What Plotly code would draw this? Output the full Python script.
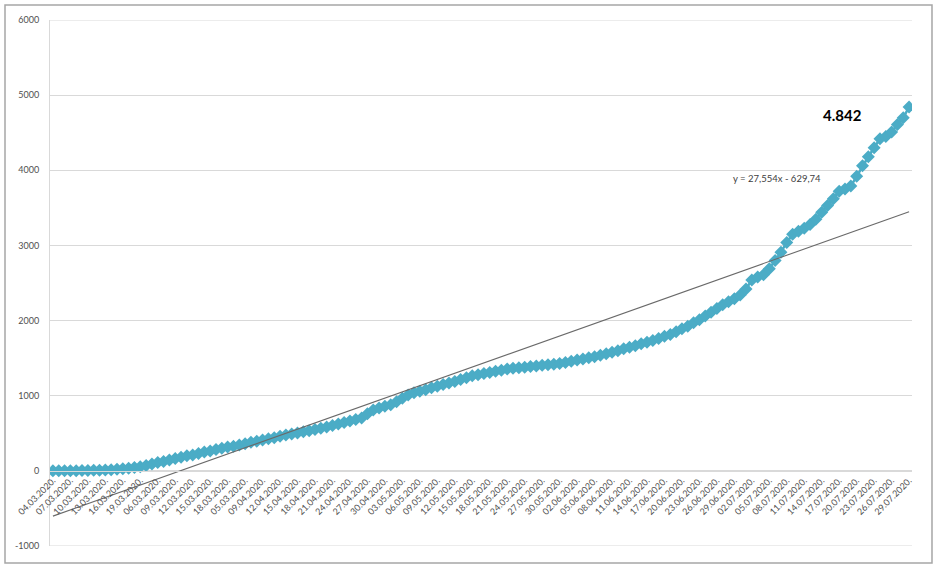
import plotly.graph_objects as go

# ---------------- data ----------------
day_index = list(range(1, 149))  # 04.03.2020 .. 29.07.2020 (148 daily points)

cases = [
    0, 1, 1, 2, 3, 4, 5, 7, 9, 12,
    16, 21, 28, 35, 44, 55, 72, 90, 110, 124,
    145, 165, 180, 200, 212, 230, 250, 265, 285, 300,
    318, 328, 345, 362, 380, 395, 412, 428, 440, 460,
    478, 490, 505, 520, 535, 552, 568, 585, 605, 622,
    645, 665, 685, 705, 760, 810, 835, 860, 880, 920,
    965, 1010, 1040, 1060, 1080, 1105, 1125, 1150, 1170, 1190,
    1215, 1240, 1265, 1280, 1295, 1310, 1325, 1340, 1355, 1365,
    1372, 1380, 1388, 1395, 1405, 1412, 1420, 1430, 1442, 1460,
    1475, 1490, 1505, 1520, 1540, 1560, 1580, 1600, 1625, 1645,
    1665, 1690, 1710, 1735, 1760, 1790, 1815, 1850, 1890, 1925,
    1970, 2010, 2060, 2110, 2160, 2210, 2250, 2290, 2340, 2420,
    2540, 2580, 2610, 2690, 2800, 2910, 3040, 3150, 3190, 3230,
    3280, 3350, 3440, 3530, 3620, 3720, 3750, 3790, 3920, 4060,
    4180, 4300, 4420, 4450, 4510, 4610, 4700, 4842,
]

tick_labels = [
    "04.03.2020.", "07.03.2020.", "10.03.2020.", "13.03.2020.", "16.03.2020.",
    "19.03.2020.", "06.03.2020.", "09.03.2020.", "12.03.2020.", "15.03.2020.",
    "18.03.2020.", "05.03.2020.", "09.04.2020.", "12.04.2020.", "15.04.2020.",
    "18.04.2020.", "21.04.2020.", "24.04.2020.", "27.04.2020.", "30.04.2020.",
    "03.05.2020.", "06.05.2020.", "09.05.2020.", "12.05.2020.", "15.05.2020.",
    "18.05.2020.", "21.05.2020.", "24.05.2020.", "27.05.2020.", "30.05.2020.",
    "02.06.2020.", "05.06.2020.", "08.06.2020.", "11.06.2020.", "14.06.2020.",
    "17.06.2020.", "20.06.2020.", "23.06.2020.", "26.06.2020.", "29.06.2020.",
    "02.07.2020.", "05.07.2020.", "08.07.2020.", "11.07.2020.", "14.07.2020.",
    "17.07.2020.", "20.07.2020.", "23.07.2020.", "26.07.2020.", "29.07.2020.",
]
tick_positions = day_index[::3]

y_ticks = [-1000, 0, 1000, 2000, 3000, 4000, 5000, 6000]

trend_slope = 27.554
trend_intercept = -629.74
trend_label = "y = 27,554x - 629,74"
last_label = "4.842"

# ---------------- figure ----------------
trend_y = [trend_slope * x + trend_intercept for x in day_index]

fig = go.Figure()
fig.add_trace(go.Scatter(
    x=day_index, y=cases, mode="lines+markers",
    line=dict(color="#4bacc6", width=2.5),
    marker=dict(symbol="diamond", size=10, color="#4bacc6"),
    showlegend=False, hoverinfo="x+y",
))
fig.add_trace(go.Scatter(
    x=day_index, y=trend_y, mode="lines",
    line=dict(color="#6a6a6a", width=1.1),
    showlegend=False, hoverinfo="skip",
))

fig.add_annotation(x=136.5, y=4740, xref="x", yref="y", text="<b>" + last_label + "</b>",
                   showarrow=False, font=dict(family="Lato", size=15, color="#000000"))
fig.add_annotation(x=125.4, y=3886, xref="x", yref="y", text=trend_label,
                   showarrow=False, font=dict(family="Lato", size=9.5, color="#404040"))

# edge gridlines (top and bottom of the value range)
for yv in (y_ticks[0], y_ticks[-1]):
    fig.add_shape(type="line", xref="paper", yref="y", x0=0, x1=1, y0=yv, y1=yv,
                  line=dict(color="#d9d9d9", width=1), layer="below")

# outer chart border
fig.add_shape(type="rect", xref="paper", yref="paper",
              x0=-0.0522, x1=1.0232, y0=-0.0323, y1=1.0285,
              line=dict(color="#a6a6a6", width=1.5), fillcolor="rgba(0,0,0,0)", layer="below")

fig.update_layout(
    width=940, height=568,
    margin=dict(l=50, r=28, t=20, b=22),
    paper_bgcolor="white", plot_bgcolor="white",
    font=dict(family="Lato", color="#595959"),
    xaxis=dict(
        range=[0.5, 148.5], tickmode="array",
        tickvals=tick_positions, ticktext=tick_labels,
        tickangle=-45, tickfont=dict(size=9, color="#505050"),
        showgrid=False, zeroline=False, automargin=False,
        showline=True, linecolor="#d9d9d9", linewidth=1,
        anchor="free", position=1000 / 7000,
        ticks="",
    ),
    yaxis=dict(
        range=[-1000, 6000], tickmode="array", tickvals=y_ticks,
        ticktext=[str(v) for v in y_ticks],
        tickfont=dict(size=9, color="#505050"),
        showgrid=True, gridcolor="#d9d9d9", gridwidth=1,
        zeroline=True, zerolinecolor="#d9d9d9", zerolinewidth=1,
        showline=True, linecolor="#d9d9d9", linewidth=1,
        ticks="", ticklabelstandoff=8, automargin=False,
    ),
)

fig.write_html("out.html", config={"displayModeBar": False},
               post_script="document.body.style.margin='0';")
